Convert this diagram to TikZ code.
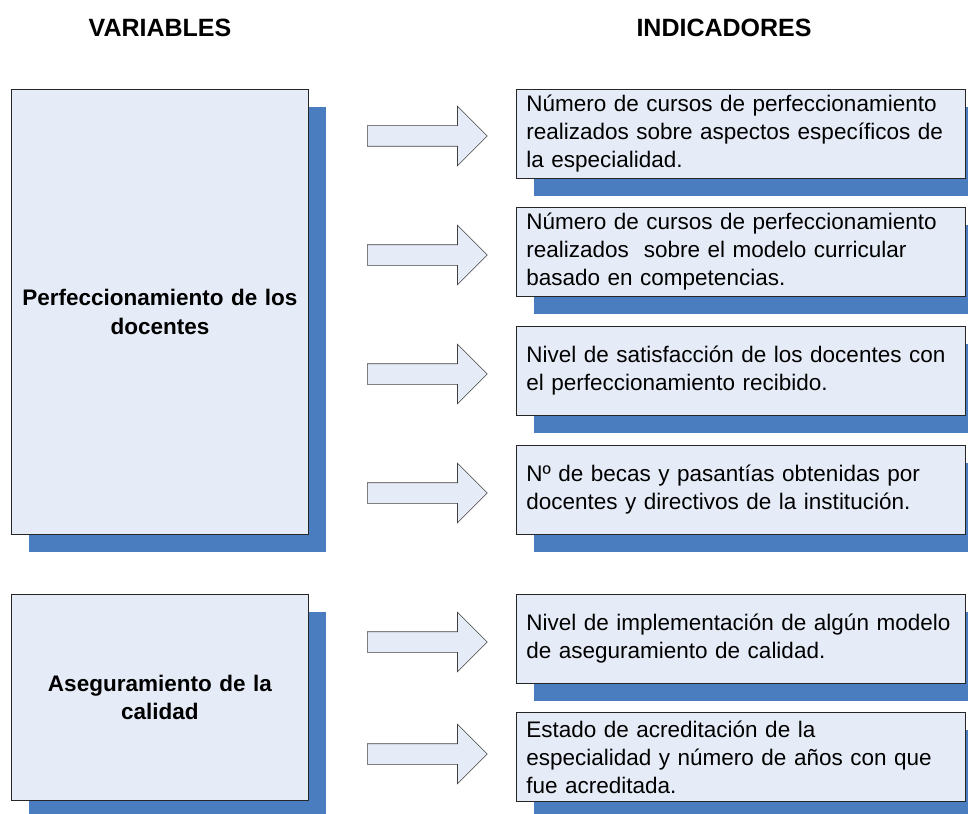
\documentclass[tikz,border=0pt]{standalone}
\usepackage{fontspec}
\setmainfont{Liberation Sans}
\usetikzlibrary{shapes.arrows,shadows}
\definecolor{boxfill}{RGB}{230,236,247}
\definecolor{shadowblue}{RGB}{74,124,192}
\tikzset{
  boxshadow/.style={drop shadow={shadow xshift=18pt, shadow yshift=-18pt, fill=shadowblue, opacity=1}},
  varbox/.style={draw=black!85, fill=boxfill, line width=0.8pt, anchor=north west, boxshadow,
    text width=277pt, align=center, inner xsep=10pt, minimum height=#1,
    font=\bfseries\fontsize{22.5}{28.5}\selectfont},
  indbox/.style={draw=black!85, fill=boxfill, line width=0.8pt, anchor=north west, boxshadow,
    text width=429pt, align=left, inner xsep=10pt, minimum height=89pt,
    font=\fontsize{22.5}{28}\selectfont},
  blockarrow/.style={single arrow, draw=black!75, fill=boxfill, line width=0.6pt,
    minimum height=120pt, single arrow head extend=19.5pt, inner xsep=0pt, inner ysep=10pt,
    text height=0pt, text depth=0pt, anchor=tail},
  header/.style={font=\bfseries\fontsize{25}{30}\selectfont}
}
\begin{document}
\begin{tikzpicture}[x=1pt,y=-1pt]
  \clip (0,0) rectangle (968,813);
  % headings
  \node[header] (hvar) at (160,28) {VARIABLES};
  \node[header] (hind) at (724,28) {INDICADORES};
  % variables
  \node[varbox=445pt] (V1) at (11,89) {Perfeccionamiento de los\\docentes};
  \node[varbox=206pt] (V2) at (11,594) {Aseguramiento de la\\calidad};
  % indicadores
  \node[indbox] (I1) at (516,89) {Número de cursos de perfeccionamiento\\realizados sobre aspectos específicos de\\la especialidad.};
  \node[indbox] (I2) at (516,207) {Número de cursos de perfeccionamiento\\realizados \ sobre el modelo curricular\\basado en competencias.};
  \node[indbox] (I3) at (516,326) {Nivel de satisfacción de los docentes con\\el perfeccionamiento recibido.};
  \node[indbox] (I4) at (516,445) {Nº de becas y pasantías obtenidas por\\docentes y directivos de la institución.};
  \node[indbox] (I5) at (516,594) {Nivel de implementación de algún modelo\\de aseguramiento de calidad.};
  \node[indbox] (I6) at (516,712) {Estado de acreditación de la\\especialidad y número de años con que\\fue acreditada.};
  % block arrows
  \node[blockarrow] (A1) at (367,136) {};
  \node[blockarrow] (A2) at (367,255) {};
  \node[blockarrow] (A3) at (367,374) {};
  \node[blockarrow] (A4) at (367,493) {};
  \node[blockarrow] (A5) at (367,642) {};
  \node[blockarrow] (A6) at (367,754) {};
\end{tikzpicture}
\end{document}
